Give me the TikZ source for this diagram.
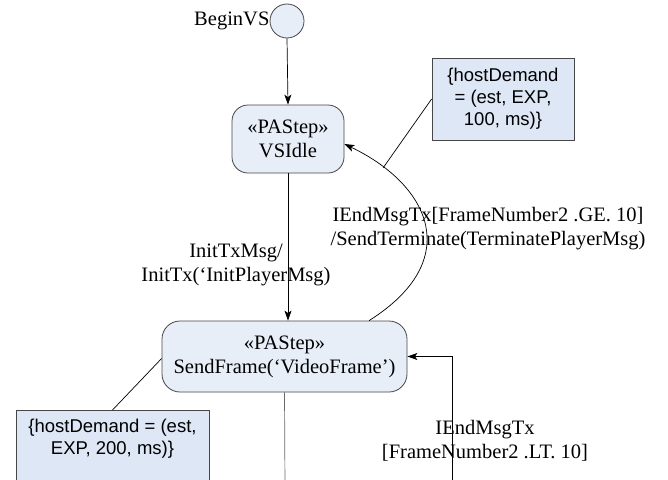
\documentclass[tikz,border=0pt]{standalone}
\usepackage{fontspec}
\setmainfont{Liberation Serif}
\newfontfamily\notefont{Liberation Sans}
\usetikzlibrary{arrows.meta,calc}

\definecolor{boxfill}{RGB}{232,238,248}
\definecolor{notefill}{RGB}{221,231,245}
\definecolor{edgegray}{RGB}{70,70,70}
\definecolor{leadgray}{RGB}{105,105,105}

\begin{document}
\begin{tikzpicture}[x=1pt,y=-1pt,
  txt/.style={font=\fontsize{20.5}{24}\selectfont, align=center, inner sep=0pt},
  stepbox/.style={txt, draw=edgegray, fill=boxfill, line width=0.8pt,
    rounded corners=16pt},
  notebox/.style={draw=edgegray, fill=notefill, line width=0.8pt, inner sep=0pt,
    align=center, font=\notefont\fontsize{18.5}{22}\selectfont},
  initstate/.style={circle, draw=edgegray, fill=boxfill, line width=0.8pt,
    minimum size=34pt, inner sep=0pt},
  flow/.style={draw=black, line width=0.7pt,
    -{Stealth[length=10pt,width=7pt,inset=2.5pt]}},
  link/.style={draw=black, line width=0.7pt},
]
\useasboundingbox (0,0) rectangle (668,479);
\clip (0,0) rectangle (668,479);

% initial state
\node[initstate] (begin) at (287,21) {};
\node[txt, anchor=east] (beginlbl) at (begin.west) {BeginVS};

% performance-analysis steps
\node[stepbox, minimum width=112pt, minimum height=68pt] (vs) at (288,139)
  {«PAStep»\\VSIdle};
\node[stepbox, minimum width=245pt, minimum height=71pt, rounded corners=18pt]
  (sf) at (284.5,356.5) {«PAStep»\\SendFrame(‘VideoFrame’)};

% host demand notes
\node[notebox, minimum width=142pt, minimum height=82pt] (n1) at (503,99)
  {\{hostDemand\\= (est, EXP,\\100, ms)\}};
\node[notebox, minimum width=193pt, minimum height=110pt, anchor=north]
  (n2) at (112.5,410) {};
\node[notebox, draw=none, fill=none, anchor=north] (n2txt) at (112.5,419)
  {\{hostDemand = (est,\\EXP, 200, ms)\}};

% loose ends running off the bottom
\coordinate (sfout) at (285,490);
\coordinate (loopin) at (452,490);

% transitions
\draw[flow] (begin.south) -- (vs.north);
\draw[flow] (vs.south) -- (vs.south |- sf.north);
\draw[flow] (sf.23) .. controls (465,260) and (430,185) ..
  coordinate[pos=0.83] (hit) ([yshift=-5pt]vs.east);
\draw[link, draw=leadgray] (sf.south) -- (sfout);
\draw[flow] (loopin) |- (sf.east);

% note anchors
\draw[link] (n1.west) -- (hit);
\draw[link] (n2.north) -- ([yshift=-2pt]sf.west);

% transition labels
\node[txt] (lblinit) at (236,265) {InitTxMsg/\\InitTx(‘InitPlayerMsg)};
\node[txt] (lblge) at (488,229)
  {IEndMsgTx[FrameNumber2 .GE. 10]\\/SendTerminate(TerminatePlayerMsg)};
\node[txt] (lbllt) at (485,441) {IEndMsgTx\\{}[FrameNumber2 .LT. 10]};
\end{tikzpicture}
\end{document}
